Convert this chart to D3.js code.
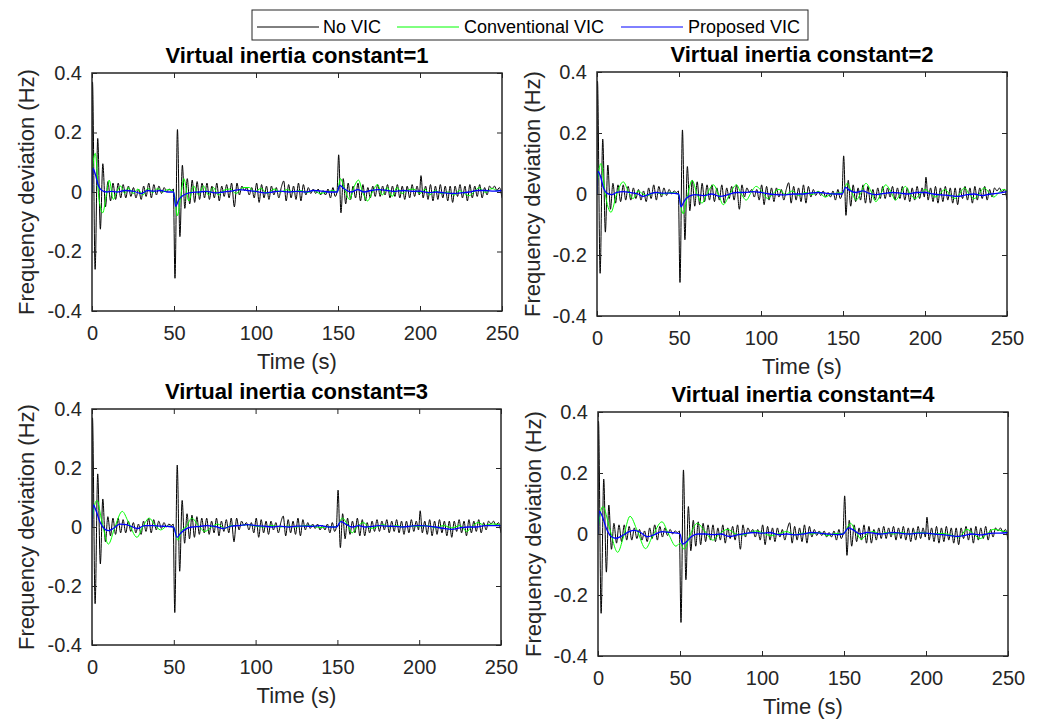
<!DOCTYPE html>
<html>
<head>
<meta charset="utf-8">
<script src="https://cdn.jsdelivr.net/npm/d3@7"></script>
<style>
  body { margin: 0; background: #fff; }
  svg { display: block; font-family: "Liberation Sans", Arial, sans-serif; }
</style>
</head>
<body>
<svg id="chart" width="1038" height="720"></svg>
<script>
//// DATA ([time s, frequency deviation Hz])

const xTicks = [0, 50, 100, 150, 200, 250]
const yTicks = [-0.4, -0.2, 0, 0.2, 0.4]
const titles = ["Virtual inertia constant=1", "Virtual inertia constant=2",
  "Virtual inertia constant=3", "Virtual inertia constant=4"]
const seriesNames = ["No VIC", "Conventional VIC", "Proposed VIC"]

// the No VIC response is the same in all four panels
const noVic = [
  [0,0],[0.3,0.37],[1.9,-0.26],[3.5,0.18],[5.1,-0.125],[6.6,0.095],[8.2,-0.05],[9.7,0.035],
  [11.3,-0.03],[12.8,0.03],[14.4,-0.025],[16,0.03],[17.5,-0.02],[19,0.025],[20.6,-0.02],[22.2,0.02],
  [23.7,-0.015],[25.3,0.015],[26.8,-0.02],[28.4,0.01],[30,-0.025],[31.5,0.02],[33,-0.015],[34.6,0.03],
  [36.2,-0.02],[37.7,0.025],[39.3,-0.01],[40.8,0.02],[42.4,-0.005],[44,0.015],[45.5,0],[47,0.01],
  [48.5,0.005],[49.6,0.01],[50.6,-0.29],[52.1,0.21],[53.6,-0.15],[55.1,0.09],[56.6,-0.055],[58.1,0.045],
  [59.6,-0.04],[61.1,0.04],[62.6,-0.035],[64.1,0.035],[65.6,-0.025],[67.1,0.03],[68.6,-0.02],[70.1,0.03],
  [71.6,-0.025],[73.1,0.02],[74.6,-0.02],[76.1,0.03],[77.6,-0.03],[79.1,0.02],[80.6,-0.015],[82.1,0.025],
  [83.6,-0.02],[85.1,0.03],[86.8,-0.05],[88.4,0.03],[89.9,-0.01],[91.4,0.02],[92.9,0.005],[94.4,0.015],
  [95.9,-0.01],[97.4,0.015],[98.9,-0.02],[100.4,0.03],[101.9,-0.035],[103.4,0.025],[104.9,-0.02],[106.4,0.02],
  [107.9,-0.025],[109.4,0.02],[110.9,-0.01],[112.4,0.015],[113.9,-0.02],[115.4,0.015],[116.9,0.037],[118.4,-0.03],
  [119.9,0.025],[121.4,-0.02],[122.9,0.02],[124.4,-0.025],[125.9,0.03],[127.4,-0.03],[128.9,0.025],[130.4,-0.01],
  [131.9,0.015],[133.4,-0.005],[134.9,0.01],[136.4,-0.005],[137.9,0.01],[139.4,-0.01],[140.9,0.005],[142.4,-0.01],
  [143.9,0.01],[145.4,-0.02],[146.9,0.015],[148.3,-0.015],[149.4,0],[150.4,0.125],[151.8,-0.07],[153.2,0.045],
  [154.7,-0.04],[156.2,0.03],[157.7,-0.025],[159.2,0.02],[160.7,-0.02],[162.2,0.03],[163.7,-0.03],[165.2,0.025],
  [166.7,-0.03],[168.2,0.015],[169.7,-0.02],[171.2,0.02],[172.7,-0.015],[174.2,0.025],[175.7,-0.015],[177.2,0.02],
  [178.7,-0.01],[180.2,0.025],[181.7,-0.02],[183.2,0.02],[184.7,-0.015],[186.2,0.025],[187.7,-0.02],[189.2,0.02],
  [190.7,-0.025],[192.2,0.02],[193.7,-0.02],[195.2,0.025],[196.7,-0.015],[198.2,0.02],[199.6,-0.01],[200.6,0.055],
  [201.9,-0.02],[203.4,0.02],[204.9,-0.025],[206.4,0.025],[207.9,-0.03],[209.4,0.02],[210.9,-0.025],[212.4,0.025],
  [213.9,-0.02],[215.4,0.02],[216.9,-0.03],[218.4,0.02],[219.9,-0.035],[221.4,0.02],[222.9,-0.015],[224.4,0.025],
  [225.9,-0.02],[227.4,0.02],[228.9,-0.03],[230.4,0.025],[231.9,-0.02],[233.4,0.02],[234.9,-0.015],[236.4,0.025],
  [237.9,-0.02],[239.4,0.015],[240.9,-0.01],[242.4,0.02],[243.9,0.01],[245.4,0.02],[246.9,0.005],[248.4,0.015],
  [250,-0.02]
]

// Conventional VIC, one array per virtual inertia constant
const conv1 = [
  [0,0],[0.4,0.08],[2,0.13],[4.2,-0.02],[6.5,-0.07],[9,0],[10.5,0.04],[13,-0.025],[15,0],[17.5,0.02],
  [20,-0.005],[22,0.015],[25,-0.005],[28,0.01],[31,-0.01],[34,0.012],[37,-0.002],[40,0.012],[43,0],[46,0.008],
  [49,0.005],[50.3,-0.01],[52,-0.08],[54,-0.02],[56,0.045],[59,-0.03],[62,0.02],[65,-0.01],[68,0.02],[71,-0.01],
  [74,0.015],[77,-0.01],[80,0.005],[84,0.01],[88,-0.005],[92,0.015],[96,0.015],[99,0],[103,0.012],[107,-0.005],
  [111,0.01],[115,0],[119,0.008],[123,0],[127,0.005],[131,-0.002],[135,0.005],[139,-0.005],[143,0],[147,0.005],
  [149.5,0],[151.5,0.045],[154,0.01],[157,-0.025],[160,0.02],[162.5,0.04],[165,0],[168,-0.03],[171,0],[174,0.025],
  [177,-0.01],[180,0.015],[183,-0.015],[186,0.015],[189,-0.005],[192,0.005],[196,0.01],[200,-0.005],[203,0.01],
  [206,-0.01],[209,0.005],[213,-0.005],[217,0],[221,-0.01],[224,0.005],[227,-0.005],[230,-0.012],[233,0],
  [236,0.015],[240,-0.002],[244,0.012],[247,0.005],[250,0.005]
]
const conv2 = [
  [0,0],[0.5,0.05],[2.5,0.1],[5,0],[8.5,-0.06],[12,0],[16,0.04],[19,0.01],[22,-0.015],[25,0.01],[28,0],
  [31,-0.005],[35,0.005],[40,0],[45,0.005],[49.5,0],[52.5,-0.065],[55,-0.01],[58,0.045],[61,0],[64,-0.03],
  [67,0],[71,0.03],[74,0],[77,-0.035],[81,0],[85,0.03],[88,0],[91,-0.02],[94,0.005],[97,0.025],[101,0.005],
  [104,-0.015],[108,0.005],[111,0.015],[115,-0.002],[119,0.01],[123,-0.005],[127,0.005],[131,-0.002],[135,0.008],
  [139,-0.01],[143,0],[147,0.003],[150,0.005],[152.5,0.035],[155,0.01],[158,-0.02],[161,0.005],[164,0.035],
  [167,0.01],[170,-0.025],[173,0],[176,0.03],[179,0.01],[182,-0.02],[185,0],[188,0.025],[191,0],[194,-0.015],
  [197,0],[200,0.015],[203,0.005],[206,-0.01],[209,0],[212,0.015],[215,0],[218,-0.015],[221,0],[224,0.02],
  [227,0],[230,-0.015],[233,0],[236,0.02],[239,0.005],[242,-0.01],[245,0.005],[248,0.015],[250,0.01]
]
const conv3 = [
  [0,0],[0.5,0.04],[3,0.09],[6,0.02],[10,-0.058],[14,0],[18.5,0.053],[22,0.02],[27.5,-0.035],[31,0],[35,0.03],
  [38,0.01],[42,-0.01],[46,0.003],[49.8,0],[52.5,-0.045],[55,-0.01],[57.5,0],[61,0.03],[65,0.005],[69,-0.015],
  [73,0],[77,0.01],[81,-0.005],[85,0.005],[90,0.005],[95,0.008],[100,0.003],[105,0],[110,0.005],[115,0],
  [120,0.003],[125,0],[130,0.005],[135,0.003],[140,-0.002],[145,0.002],[149.5,0],[153,0.03],[156,0.01],
  [159,-0.02],[162,0],[166,0.015],[170,-0.005],[174,0],[178,0.008],[182,0],[186,0.005],[190,0],[195,0.003],
  [200,0.002],[205,0.005],[210,-0.003],[215,0.005],[220,-0.003],[225,0.005],[229,-0.015],[232,0],[236,0.015],
  [240,0.005],[244,0.01],[247,0.01],[250,0.005]
]
const conv4 = [
  [0,0],[0.5,0.035],[3,0.09],[7,0.02],[12,-0.06],[15.5,-0.01],[19.5,0.058],[24,0.01],[29,-0.048],[33,-0.01],
  [39,0.04],[43,0],[47.5,-0.04],[50,-0.03],[52.5,-0.05],[56,-0.005],[60.5,0.035],[65,0.01],[70,-0.02],[74,0],
  [79,0.015],[84,0],[88,-0.003],[92,0.003],[96,0.01],[100,0.005],[105,-0.005],[110,0],[115,0.008],[120,-0.003],
  [125,0.003],[130,0],[135,0.005],[140,-0.005],[145,0.002],[149.5,0],[154,0.035],[157,0.01],[160.5,-0.017],
  [164,0],[168,0.008],[172,0],[176,0.005],[180,0],[185,0.005],[190,0],[195,0.005],[200,0.003],[205,0],
  [210,0.002],[215,-0.003],[220,-0.01],[225,0.015],[229,0],[233,-0.015],[237,0],[241,0.015],[245,0.012],[250,0.005]
]

// Proposed VIC, one array per virtual inertia constant
const prop1 = [
  [0,0],[0.5,0.08],[2,0.06],[4,0.02],[6,0.005],[9,0],[12,0.002],[15,0],[20,0.005],[25,0.003],[30,-0.005],
  [34,0.005],[38,0.003],[42,0.005],[46,0],[49.8,0],[51,-0.048],[53,-0.025],[56,-0.01],[60,-0.002],[65,0],
  [70,0.002],[75,-0.003],[80,0],[85,0.003],[90,0.008],[95,0.005],[100,0.002],[105,-0.003],[110,0],[115,0.003],
  [120,0],[125,0.002],[130,0],[135,0.005],[140,0.003],[145,0],[149.5,0],[151,0.022],[154,0.01],[158,0],
  [162,0.008],[166,0],[170,0.005],[175,0.008],[180,0.005],[185,0.002],[190,0.005],[195,0.002],[200,0.003],
  [205,-0.002],[210,0],[215,-0.003],[220,-0.005],[225,-0.003],[230,0],[235,0.005],[240,0.005],[245,0.003],[250,0.005]
]
const prop2 = [
  [0,0],[0.5,0.075],[2,0.06],[4,0.02],[6,0.003],[9,-0.002],[12,0.005],[16,0.008],[20,0.005],[25,0],[28,-0.008],
  [32,0],[36,0.005],[40,0.003],[45,0.003],[49.8,0],[51.2,-0.042],[53,-0.025],[56,-0.008],[60,-0.002],[65,-0.005],
  [70,0],[75,-0.008],[80,-0.002],[85,0.005],[90,0.005],[95,0.008],[100,0.005],[105,0],[110,-0.002],[115,-0.003],
  [120,0],[125,0],[130,0.003],[135,0.005],[140,0.002],[145,0],[149.5,0],[151.5,0.022],[154,0.012],[158,0.005],
  [162,0.01],[166,0.002],[170,-0.002],[175,0.002],[180,0.005],[185,0.003],[190,0],[195,0.005],[200,0.005],
  [205,0],[210,-0.003],[215,-0.005],[220,-0.008],[225,-0.003],[230,0],[235,-0.005],[240,0],[245,0.003],[250,0.008]
]
const prop3 = [
  [0,0],[0.8,0.075],[2.5,0.055],[5,0.015],[8,-0.008],[10,-0.012],[13,-0.005],[17,0.01],[21,0.008],[25,0],
  [28,-0.005],[32,0.005],[37,0.005],[42,0.003],[46,0.002],[49.8,0],[52,-0.035],[54,-0.022],[57,-0.008],[61,0],
  [66,0.002],[70,0.005],[75,0.002],[80,-0.005],[85,0.003],[90,0.005],[95,0.008],[100,0.005],[105,0.003],[110,0],
  [115,0.003],[120,0],[125,0.003],[130,0.003],[135,0.002],[140,0.005],[145,0],[149.5,0],[152,0.018],[155,0.01],
  [159,0],[163,0.005],[167,0],[171,0.002],[175,0.005],[180,0.003],[185,0.002],[190,0],[195,0.003],[200,0.005],
  [205,0.003],[210,0],[215,-0.005],[220,-0.008],[225,-0.003],[230,0],[235,0],[240,0.005],[245,0.005],[250,0.005]
]
const prop4 = [
  [0,0],[0.8,0.075],[2.5,0.06],[5,0.02],[8,-0.008],[11,-0.014],[15,-0.005],[19,0.008],[22,0.012],[26,0.005],
  [30,-0.009],[34,-0.003],[39,0.008],[44,0.005],[48,0.003],[50,0],[51.5,-0.033],[54,-0.025],[57,-0.008],[61,0],
  [66,0],[70,-0.002],[75,0],[80,-0.008],[85,-0.003],[90,0.002],[95,0.005],[100,0.003],[105,0.005],[110,-0.002],
  [115,0],[120,-0.003],[125,0],[130,0.005],[135,0.003],[140,0],[145,-0.002],[149.5,0],[152.8,0.02],[156,0.012],
  [160,0],[164,0.005],[168,0.003],[172,0],[176,0.002],[180,0.005],[185,0.002],[190,0],[195,0.003],[200,0.003],
  [205,0],[210,-0.002],[215,-0.005],[219,-0.008],[223,-0.005],[228,0],[233,-0.003],[237,0],[241,0.003],
  [245,0.003],[250,0.005]
]

const convSeries = [conv1, conv2, conv3, conv4]
const propSeries = [prop1, prop2, prop3, prop4]

//// LAYOUT

const axisColor = "#262626"
const lineColors = ["#000000", "#00ff00", "#0000ff"]

// axes boxes in pixels, in the same order as the titles
const boxes = [
  {left: 92, top: 73, width: 410, height: 238},
  {left: 597, top: 72, width: 410, height: 244},
  {left: 92, top: 409, width: 409, height: 236},
  {left: 598, top: 412, width: 410, height: 244}
]

const svg = d3.select("#chart")

// draw one subplot
function drawPanel(i) {
  const box = boxes[i]
  const g = svg.append("g").attr("transform", `translate(${box.left},${box.top})`)

  const x = d3.scaleLinear().domain([0, 250]).range([0, box.width])
  const y = d3.scaleLinear().domain([-0.4, 0.4]).range([box.height, 0])

  // clip the traces to the axes area
  g.append("clipPath").attr("id", "clip" + i)
    .append("rect").attr("width", box.width).attr("height", box.height)

  const line = d3.line()
    .x(d => x(d[0]))
    .y(d => y(d[1]))
    .curve(d3.curveMonotoneX)

  const traces = [noVic, convSeries[i], propSeries[i]]
  g.append("g").attr("clip-path", `url(#clip${i})`)
    .selectAll("path")
    .data(traces)
    .join("path")
    .attr("d", line)
    .attr("fill", "none")
    .attr("stroke", (_, k) => lineColors[k])
    .attr("stroke-width", (_, k) => k == 2 ? 1.3 : 1)

  // ticks point inward on all four sides, labels only bottom and left
  const fmt = d => String(d)
  const bottom = g.append("g").attr("transform", `translate(0,${box.height})`)
    .call(d3.axisBottom(x).tickValues(xTicks).tickFormat(fmt).tickSizeInner(-5).tickSizeOuter(0).tickPadding(15))
  const left = g.append("g")
    .call(d3.axisLeft(y).tickValues(yTicks).tickFormat(fmt).tickSizeInner(-5).tickSizeOuter(0).tickPadding(10))
  const top = g.append("g")
    .call(d3.axisTop(x).tickValues(xTicks).tickFormat("").tickSizeInner(-5).tickSizeOuter(0))
  const right = g.append("g").attr("transform", `translate(${box.width},0)`)
    .call(d3.axisRight(y).tickValues(yTicks).tickFormat("").tickSizeInner(-5).tickSizeOuter(0))

  for (const ax of [bottom, left, top, right]) {
    ax.select(".domain").remove()
    ax.selectAll("line").attr("stroke", axisColor)
    ax.selectAll("text")
      .attr("fill", axisColor)
      .style("font-size", "20px")
      .style("font-family", "'Liberation Sans', Arial, sans-serif")
  }

  g.append("rect")
    .attr("width", box.width)
    .attr("height", box.height)
    .attr("fill", "none")
    .attr("stroke", axisColor)
    .attr("stroke-width", 1.5)

  // title
  g.append("text")
    .attr("x", box.width / 2)
    .attr("y", -10)
    .attr("text-anchor", "middle")
    .style("font-size", "22px")
    .style("font-weight", "bold")
    .attr("fill", "#000")
    .text(titles[i])

  // x label
  g.append("text")
    .attr("x", box.width / 2)
    .attr("y", box.height + 58)
    .attr("text-anchor", "middle")
    .style("font-size", "22px")
    .attr("fill", axisColor)
    .text("Time (s)")

  // y label
  g.append("text")
    .attr("transform", `translate(${i % 2 == 0 ? -58 : -57},${box.height / 2}) rotate(-90)`)
    .attr("text-anchor", "middle")
    .style("font-size", "22px")
    .attr("fill", axisColor)
    .text("Frequency deviation (Hz)")
}

boxes.forEach((_, i) => drawPanel(i))

//// LEGEND

const legend = svg.append("g").attr("transform", "translate(252,10)")
legend.append("rect")
  .attr("width", 556)
  .attr("height", 30)
  .attr("fill", "#fff")
  .attr("stroke", axisColor)
  .attr("stroke-width", 1)

// line start and label start for each entry
const legendLineX = [5, 145, 369]
const legendTextX = [71, 212, 436]

const entries = legend.selectAll(".entry")
  .data(seriesNames)
  .join("g")
  .attr("class", "entry")

entries.append("line")
  .attr("x1", (_, k) => legendLineX[k])
  .attr("x2", (_, k) => legendLineX[k] + 62)
  .attr("y1", 17)
  .attr("y2", 17)
  .attr("stroke", (_, k) => lineColors[k])
  .attr("stroke-width", 1)

entries.append("text")
  .attr("x", (_, k) => legendTextX[k])
  .attr("y", 23)
  .style("font-size", "18px")
  .attr("fill", "#000")
  .text(d => d)
</script>
</body>
</html>
